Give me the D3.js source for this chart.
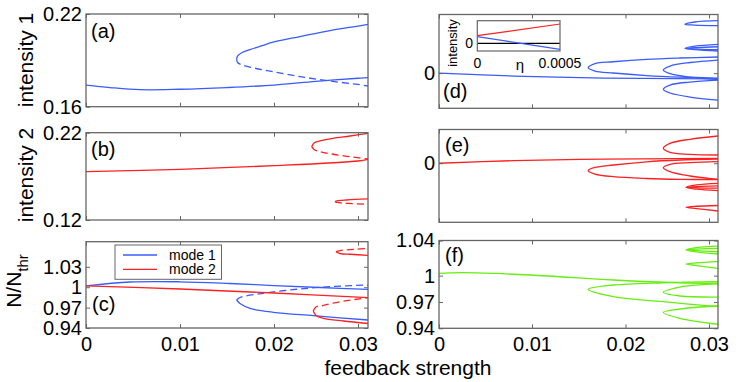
<html>
<head>
<style>
  body { margin: 0; background: white; }
  text { font-family: 'Liberation Sans', Arial, sans-serif; fill: black; }
</style>
<script src="https://d3js.org/d3.v7.min.js"></script>
</head>
<body>
<svg width="747" height="382"></svg>
<script>
// tick values
var xTicks = [0, 0.01, 0.02, 0.03];
var aTicks = [0.16, 0.22];
var bTicks = [0.12, 0.22];
var cTicks = [0.94, 0.97, 1, 1.03];
var dTicks = [0];
var eTicks = [0];
var fTicks = [0.94, 0.97, 1, 1.04];

// (a) intensity 1
var aLow = [[0,0.1740],[0.00255,0.1724],[0.00574,0.1710],[0.01,0.1713],[0.015,0.1724],[0.02,0.1740],[0.025,0.1764],[0.03,0.1784],[0.0312,0.1788]];
var aUp = [[0.01603,0.1907],[0.01612,0.1928],[0.0166,0.1951],[0.01745,0.1970],[0.01872,0.1995],[0.02,0.2019],[0.0231,0.2054],[0.02667,0.2093],[0.03,0.2122],[0.0312,0.2133]];
var aMid = [[0.01603,0.1907],[0.01612,0.1886],[0.0166,0.1870],[0.01798,0.1849],[0.02,0.1825],[0.0231,0.1795],[0.02667,0.1766],[0.03,0.1744],[0.0312,0.1734]];

// (b) intensity 2
var bMain = [[0,0.1753],[0.01,0.1781],[0.02,0.1822],[0.03,0.1876],[0.0312,0.1895]];
var bUpSolid = [[0.02449,0.2040],[0.02476,0.2082],[0.02548,0.2105],[0.02702,0.2136],[0.02905,0.2162],[0.0312,0.2193]];
var bUpDash = [[0.02449,0.2040],[0.02476,0.2008],[0.02548,0.1982],[0.02706,0.1953],[0.02905,0.1925],[0.0312,0.1899]];
var bLowSolid = [[0.02726,0.1410],[0.0275,0.1419],[0.02865,0.1429],[0.0312,0.1441]];
var bLowDash = [[0.02726,0.1410],[0.0275,0.1401],[0.02865,0.1391],[0.0312,0.1379]];

// (c) carrier density, mode 1 (blue) and mode 2 (red)
var c1Solid = [[0,1.002],[0.0047,1.0077],[0.01,1.0080],[0.0153,1.0055],[0.02,1.0025],[0.0255,0.9996],[0.0312,0.9967]];
var c1LowSolid = [[0.01603,0.9812],[0.01638,0.9761],[0.01745,0.9690],[0.01993,0.9631],[0.02468,0.9581],[0.0312,0.9518]];
var c1Dash = [[0.01603,0.9812],[0.01638,0.9849],[0.01886,0.9911],[0.0227,0.9970],[0.02667,1.0008],[0.0312,1.0033]];
var c2Solid = [[0,1.002],[0.01,0.9974],[0.02,0.9915],[0.0312,0.9846]];
var c2LowSolid = [[0.02468,0.9650],[0.025,0.9584],[0.02587,0.9543],[0.02825,0.9503],[0.0312,0.9466]];
var c2LowDash = [[0.02468,0.9650],[0.025,0.9709],[0.02587,0.9734],[0.02786,0.9787],[0.0312,0.9846]];
var c2UpSolid = [[0.02738,1.0523],[0.02786,1.0496],[0.02905,1.0485],[0.0312,1.0470]];
var c2UpDash = [[0.02738,1.0523],[0.02786,1.0540],[0.02964,1.0558],[0.0312,1.0573]];

// (d) blue branches
var dMain = [[0,0],[0.008,-0.05],[0.0151,-0.078],[0.022,-0.09],[0.0312,-0.098]];
var dFold1 = [[0.0312,0.275],[0.02653,0.258],[0.02254,0.235],[0.01866,0.194],[0.01673,0.164],[0.01601,0.092],[0.01673,0.036],[0.01866,0.002],[0.02254,-0.041],[0.02653,-0.067],[0.0312,-0.084]];
var dFold2 = [[0.0312,0.223],[0.02772,0.181],[0.02533,0.121],[0.02453,0.053],[0.02533,-0.007],[0.02772,-0.067],[0.0312,-0.109]];
var dFold3 = [[0.0312,-0.118],[0.02772,-0.152],[0.02533,-0.203],[0.02453,-0.276],[0.02533,-0.339],[0.02772,-0.408],[0.0312,-0.459]];
var dFold4 = [[0.0312,0.894],[0.02832,0.872],[0.02713,0.832],[0.02832,0.820],[0.0312,0.809]];
var dFold5 = [[0.0312,0.491],[0.02832,0.46],[0.02713,0.423],[0.02832,0.40],[0.0312,0.377]];
var dFold6 = [[0.0312,0.45],[0.0285,0.435],[0.02713,0.42],[0.0285,0.41],[0.0312,0.40]];

// (e) red branches
var eMain = [[0,0],[0.008,0.077],[0.0151,0.117],[0.022,0.132],[0.0312,0.147]];
var eFold1 = [[0.0312,0.126],[0.02651,0.096],[0.02253,0.043],[0.01869,-0.052],[0.01673,-0.126],[0.01601,-0.221],[0.01673,-0.319],[0.01869,-0.398],[0.02253,-0.452],[0.02651,-0.476],[0.0312,-0.481]];
var eFold2 = [[0.0312,0.807],[0.02772,0.710],[0.02533,0.591],[0.02453,0.443],[0.02533,0.324],[0.02772,0.265],[0.0312,0.244]];
var eFold3 = [[0.0312,0.046],[0.02772,0.017],[0.02533,-0.032],[0.02453,-0.131],[0.02533,-0.250],[0.02772,-0.378],[0.0312,-0.476]];
var eFold4 = [[0.0312,-0.594],[0.0285,-0.64],[0.02725,-0.713],[0.0285,-0.77],[0.0312,-0.813]];
var eFold5 = [[0.0312,-0.67],[0.0285,-0.69],[0.02725,-0.713],[0.0285,-0.73],[0.0312,-0.74]];
var eFold6 = [[0.0312,-1.252],[0.0285,-1.275],[0.02725,-1.305],[0.0285,-1.345],[0.0312,-1.415]];

// (f) green branches
var fMain = [[0,1.0026],[0.0026,1.0033],[0.0098,1.0007],[0.0187,0.9950],[0.0265,0.9919],[0.0312,0.9913]];
var fFold1 = [[0.0312,0.9931],[0.02453,0.9919],[0.01869,0.9893],[0.01601,0.9844],[0.01869,0.9760],[0.02453,0.9703],[0.0312,0.9646]];
var fFold2 = [[0.0312,0.9905],[0.02651,0.9870],[0.02453,0.9810],[0.02651,0.9768],[0.0312,0.9755]];
var fFold3 = [[0.0312,0.9657],[0.02651,0.9620],[0.02453,0.9582],[0.02651,0.9514],[0.0312,0.9446]];
var fFold4 = [[0.0312,1.0337],[0.0285,1.032],[0.02725,1.0295],[0.0285,1.027],[0.0312,1.0246]];
var fFold5 = [[0.0312,1.0311],[0.0285,1.0302],[0.02725,1.0295],[0.0285,1.0285],[0.0312,1.0272]];
var fFold6 = [[0.0312,1.0159],[0.0285,1.0145],[0.02725,1.0132],[0.0285,1.0115],[0.0312,1.0083]];

// inset in (d)
var insetTicks = [0, 0.0005];
var insetRed = [[0,0.336],[0.0005,0.853]];
var insetBlue = [[0,0.292],[0.0005,-0.265]];
var insetBlack = [[0,0],[0.0005,0]];

var legendNames = ['mode 1', 'mode 2'];

var BLUE = '#3a5cff', RED = '#ff2020', GREEN = '#66ee10', GREY = '#666';
var FONT = 21, TICKFONT = 20;

var svg = d3.select('svg');

var leftX = d3.scaleLinear().domain([0, 0.01, 0.02, 0.03, 0.0312]).range([86, 180, 274, 358, 368]);
var rightX = d3.scaleLinear().domain([0, 0.01, 0.02, 0.03, 0.0312]).range([439, 532, 625.5, 709, 718]);

var panels = [
  {id: 'a', x: leftX, top: 14, bot: 106.7, dom: [0.16, 0.22], ticks: aTicks, label: [91, 38], xLabels: false,
    curves: [[aLow, BLUE, false], [aUp, BLUE, false], [aMid, BLUE, true]]},
  {id: 'b', x: leftX, top: 132.7, bot: 220, dom: [0.12, 0.22], ticks: bTicks, label: [91, 156], xLabels: false,
    curves: [[bMain, RED, false], [bUpSolid, RED, false], [bUpDash, RED, true], [bLowSolid, RED, false], [bLowDash, RED, true]]},
  {id: 'c', x: leftX, top: 241.7, bot: 328, dom: [0.94, 1.067], ticks: cTicks, label: [92, 311], xLabels: true,
    curves: [[c1Solid, BLUE, false], [c1LowSolid, BLUE, false], [c1Dash, BLUE, true],
             [c2Solid, RED, false], [c2LowSolid, RED, false], [c2LowDash, RED, true], [c2UpSolid, RED, false], [c2UpDash, RED, true]]},
  {id: 'd', x: rightX, top: 14.5, bot: 108.3, dom: [-0.6, 1], ticks: dTicks, label: [443, 98], xLabels: false,
    curves: [[dMain, BLUE], [dFold1, BLUE], [dFold2, BLUE], [dFold3, BLUE], [dFold4, BLUE], [dFold5, BLUE], [dFold6, BLUE]]},
  {id: 'e', x: rightX, top: 129.5, bot: 222.3, dom: [-1.75, 1], ticks: eTicks, label: [445, 152], xLabels: false,
    curves: [[eMain, RED], [eFold1, RED], [eFold2, RED], [eFold3, RED], [eFold4, RED], [eFold5, RED], [eFold6, RED]]},
  {id: 'f', x: rightX, top: 240.5, bot: 328.3, dom: [0.94, 1.04], ticks: fTicks, label: [445, 262], xLabels: true,
    curves: [[fMain, GREEN], [fFold1, GREEN], [fFold2, GREEN], [fFold3, GREEN], [fFold4, GREEN], [fFold5, GREEN], [fFold6, GREEN]]}
];

function styleAxis(g) {
  g.select('.domain').remove();
  g.selectAll('line').attr('stroke', GREY);
  g.attr('font-size', TICKFONT).attr('font-family', "'Liberation Sans', Arial, sans-serif");
}

panels.forEach(function (p) {
  var x = p.x;
  var y = d3.scaleLinear().domain(p.dom).range([p.bot, p.top]);
  var x0 = x.range()[0], x1 = x.range()[x.range().length - 1];
  var g = svg.append('g');

  g.append('clipPath').attr('id', 'clip' + p.id)
    .append('rect').attr('x', x0).attr('y', p.top).attr('width', x1 - x0).attr('height', p.bot - p.top);

  var line = d3.line().x(function (d) { return x(d[0]); }).y(function (d) { return y(d[1]); })
    .curve(d3.curveCatmullRom.alpha(0.5));
  var cg = g.append('g').attr('clip-path', 'url(#clip' + p.id + ')');
  p.curves.forEach(function (c) {
    cg.append('path').attr('d', line(c[0])).attr('fill', 'none')
      .attr('stroke', c[1]).attr('stroke-width', 1.3)
      .attr('stroke-dasharray', c[2] ? '7,4' : null);
  });

  // ticks pointing inward on all four sides
  var fmt = function (d) { return String(d); };
  g.append('g').attr('transform', 'translate(0,' + p.bot + ')')
    .call(d3.axisBottom(x).tickValues(xTicks).tickSize(-4).tickSizeOuter(0).tickPadding(9)
      .tickFormat(p.xLabels ? fmt : ''))
    .call(styleAxis);
  g.append('g').attr('transform', 'translate(0,' + p.top + ')')
    .call(d3.axisTop(x).tickValues(xTicks).tickSize(-4).tickSizeOuter(0).tickFormat(''))
    .call(styleAxis);
  g.append('g').attr('transform', 'translate(' + x0 + ',0)')
    .call(d3.axisLeft(y).tickValues(p.ticks).tickSize(-4).tickSizeOuter(0).tickPadding(4).tickFormat(fmt))
    .call(styleAxis);
  g.append('g').attr('transform', 'translate(' + x1 + ',0)')
    .call(d3.axisRight(y).tickValues(p.ticks).tickSize(-4).tickSizeOuter(0).tickFormat(''))
    .call(styleAxis);

  g.append('rect').attr('x', x0).attr('y', p.top).attr('width', x1 - x0).attr('height', p.bot - p.top)
    .attr('fill', 'none').attr('stroke', GREY).attr('stroke-width', 1.3);

  g.append('text').attr('x', p.label[0]).attr('y', p.label[1]).attr('font-size', 20).text('(' + p.id + ')');
});

// legend in (c)
var leg = svg.append('g');
leg.append('rect').attr('x', 115).attr('y', 245).attr('width', 106.5).attr('height', 34.3)
  .attr('fill', 'white').attr('stroke', GREY).attr('stroke-width', 1);
legendNames.forEach(function (n, i) {
  var yy = 255 + i * 14.3;
  leg.append('line').attr('x1', 123).attr('x2', 157).attr('y1', yy).attr('y2', yy)
    .attr('stroke', i ? RED : BLUE).attr('stroke-width', 1.3);
  leg.append('text').attr('x', 169).attr('y', yy + 5).attr('font-size', 14).text(n);
});

// inset in (d)
var ix = d3.scaleLinear().domain(insetTicks).range([477.3, 560]);
var iy = d3.scaleLinear().domain([-0.34, 1]).range([51, 20.7]);
var ins = svg.append('g');
ins.append('rect').attr('x', 477.3).attr('y', 20.7).attr('width', 82.7).attr('height', 30.3).attr('fill', 'white');
var iline = d3.line().x(function (d) { return ix(d[0]); }).y(function (d) { return iy(d[1]); });
[[insetBlack, 'black'], [insetRed, RED], [insetBlue, BLUE]].forEach(function (c) {
  ins.append('path').attr('d', iline(c[0])).attr('fill', 'none').attr('stroke', c[1]).attr('stroke-width', 1.2);
});
ins.append('rect').attr('x', 477.3).attr('y', 20.7).attr('width', 82.7).attr('height', 30.3)
  .attr('fill', 'none').attr('stroke', GREY).attr('stroke-width', 1.2);
insetTicks.forEach(function (t) {
  ins.append('text').attr('x', ix(t)).attr('y', 68).attr('font-size', 14).attr('text-anchor', 'middle').text(String(t));
});
ins.append('text').attr('x', 520).attr('y', 70).attr('font-size', 15).attr('text-anchor', 'middle').text('η');
ins.append('text').attr('x', 473).attr('y', iy(0) + 5).attr('font-size', 14).attr('text-anchor', 'end').text('0');
ins.append('text').attr('transform', 'translate(457,43) rotate(-90)').attr('font-size', 13)
  .attr('text-anchor', 'middle').text('intensity');

// axis labels
svg.append('text').attr('transform', 'translate(33,60) rotate(-90)').attr('font-size', FONT)
  .attr('text-anchor', 'middle').text('intensity 1');
svg.append('text').attr('transform', 'translate(33,175) rotate(-90)').attr('font-size', FONT)
  .attr('text-anchor', 'middle').text('intensity 2');
var nl = svg.append('text').attr('transform', 'translate(21,281) rotate(-90)').attr('font-size', FONT)
  .attr('text-anchor', 'middle');
nl.append('tspan').text('N/N');
nl.append('tspan').attr('font-size', 15).attr('dy', 7).text('thr');
svg.append('text').attr('x', 408).attr('y', 375).attr('font-size', FONT).attr('text-anchor', 'middle')
  .text('feedback strength');
</script>
</body>
</html>
